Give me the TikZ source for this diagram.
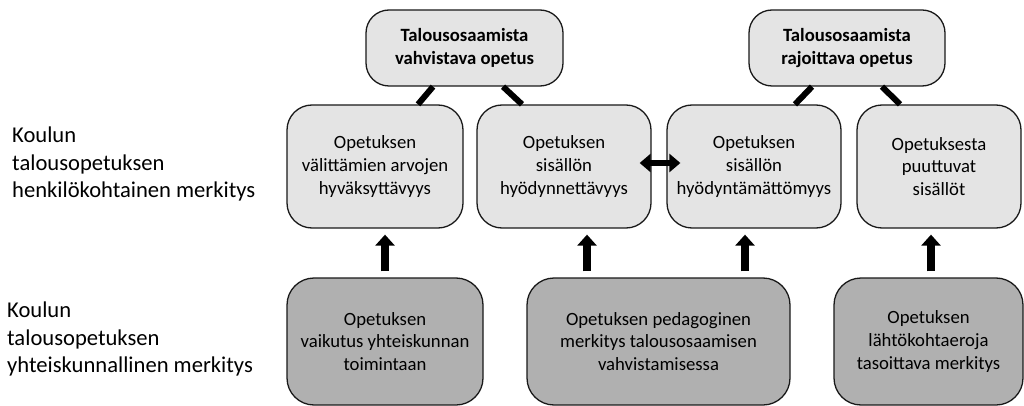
\documentclass[tikz,border=0pt]{standalone}
\usepackage{fontspec}
\setmainfont{Carlito}
\usetikzlibrary{arrows.meta,calc}
\definecolor{lightbox}{HTML}{E4E4E4}
\definecolor{darkbox}{HTML}{B0B0B0}
\begin{document}
\begin{tikzpicture}[x=1pt,y=-1pt,
  boxbase/.style={draw=black!90,line width=1.3pt,rounded corners=24pt,inner sep=0pt,align=center,
    font=\fontsize{18.7}{22.6}\selectfont},
  topbox/.style={boxbase,fill=lightbox,font=\fontsize{18.7}{22.6}\selectfont\bfseries,minimum height=76pt,rounded corners=23pt},
  midbox/.style={boxbase,fill=lightbox,minimum height=123pt,rounded corners=25pt},
  lowbox/.style={boxbase,fill=darkbox,minimum height=127pt,rounded corners=27pt},
  sidelabel/.style={anchor=west,align=left,inner sep=0pt,font=\fontsize{22.6}{27.5}\selectfont},
  link/.style={line width=6pt,black},
  uparrow/.style={line width=7.5pt,-{Triangle[width=19pt,length=11pt]}},
  bothways/.style={line width=6pt,{Triangle[width=18pt,length=11pt]}-{Triangle[width=18pt,length=11pt]}}
]
\useasboundingbox (0,0) rectangle (1024,406);

% side labels
\node[sidelabel] (l1) at (12,164) {Koulun\\talousopetuksen\\henkilökohtainen merkitys};
\node[sidelabel] (l2) at (7,339) {Koulun\\talousopetuksen\\yhteiskunnallinen merkitys};

% top boxes
\node[topbox,minimum width=197pt] (t1) at (464.5,48) {Talousosaamista\\vahvistava opetus};
\node[topbox,minimum width=196pt] (t2) at (847,48) {Talousosaamista\\rajoittava opetus};

% middle boxes
\node[midbox,minimum width=176pt] (m1) at (375,166.5) {Opetuksen\\välittämien arvojen\\hyväksyttävyys};
\node[midbox,minimum width=174pt] (m2) at (564,166.5) {Opetuksen\\sisällön\\hyödynnettävyys};
\node[midbox,minimum width=174pt] (m3) at (754,166.5) {Opetuksen\\sisällön\\hyödyntämättömyys};
\node[midbox,minimum width=164pt] (m4) at (939,166.5) {Opetuksesta\\puuttuvat\\sisällöt};

% bottom boxes
\node[lowbox,minimum width=196pt] (b1) at (385,341.5) {Opetuksen\\vaikutus yhteiskunnan\\toimintaan};
\node[lowbox,minimum width=263pt] (b2) at (658.5,341.5) {Opetuksen pedagoginen\\merkitys talousosaamisen\\vahvistamisessa};
\node[lowbox,minimum width=189pt] (b3) at (928.5,341.5) {Opetuksen\\lähtökohtaeroja\\tasoittava merkitys};

% links from top boxes
\draw[link] ($(t1.south)+(-31.5,0)$) -- ($(m1.north)+(43,0)$);
\draw[link] ($(t1.south)+(38.5,0)$) -- ($(m2.north)+(-42,0)$);
\draw[link] ($(t2.south)+(-35,0)$) -- ($(m3.north)+(41,0)$);
\draw[link] ($(t2.south)+(35,0)$) -- ($(m4.north)+(-39,0)$);

% up arrows
\coordinate (a1) at ($(b1.north)+(0,0)$);
\coordinate (a2) at ($(b2.north)+(-71.5,0)$);
\coordinate (a3) at ($(b2.north)+(86.5,0)$);
\coordinate (a4) at ($(b3.north)+(2.5,0)$);
\draw[uparrow,shorten <=6pt,shorten >=6pt] (a1) -- (a1 |- m1.south);
\draw[uparrow,shorten <=6pt,shorten >=6pt] (a2) -- (a2 |- m2.south);
\draw[uparrow,shorten <=6pt,shorten >=6pt] (a3) -- (a3 |- m3.south);
\draw[uparrow,shorten <=6pt,shorten >=6pt] (a4) -- (a4 |- m4.south);

% double arrow
\draw[bothways] ($(m2.east)+(-12,-3.5)$) -- ($(m3.west)+(14,-3.5)$);
\end{tikzpicture}
\end{document}
